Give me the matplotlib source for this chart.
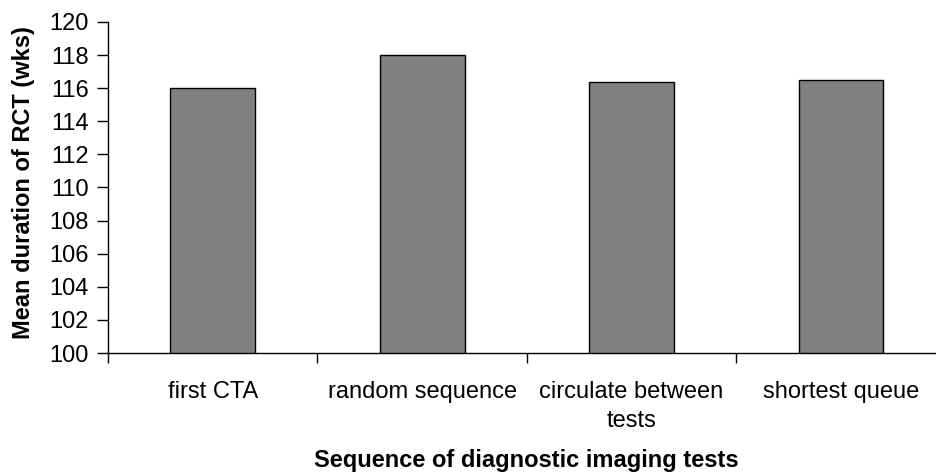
import matplotlib
matplotlib.use('Agg')
import matplotlib.pyplot as plt
import numpy as np

# ---data
categories = ['first CTA', 'random sequence', 'circulate between\ntests', 'shortest queue']
durations = [116.0, 118.0, 116.4, 116.5]

plt.rcParams['font.family'] = ['Liberation Sans', 'DejaVu Sans']

fig = plt.figure(figsize=(9.37, 4.75), dpi=100)
ax = fig.add_axes([0.1153, 0.2568, 0.894, 0.697])

x = np.arange(len(categories))
ax.bar(x, durations, width=0.405, bottom=0, color='#808080',
       edgecolor='black', linewidth=1.0, zorder=2)

ax.set_ylim(100, 120)
ax.set_xlim(-0.5, len(categories) - 0.5)
ax.set_yticks(np.arange(100, 121, 2))
ax.tick_params(axis='y', labelsize=17, length=8, width=1, direction='out', pad=6)

# boundaries get the tick marks, centres get the labels
ax.set_xticks(np.arange(len(categories) + 1) - 0.5)
ax.set_xticklabels([])
ax.set_xticks(x, minor=True)
ax.set_xticklabels(categories, minor=True, fontsize=17, linespacing=1.4)
ax.tick_params(axis='x', which='major', length=7, width=1, direction='out')
ax.tick_params(axis='x', which='minor', length=0, pad=20)

for s in ['top', 'right']:
    ax.spines[s].set_visible(False)
ax.spines['left'].set_linewidth(1)
ax.spines['bottom'].set_linewidth(1)

fig.text(0.0256, 0.6158, 'Mean duration of RCT (wks)', fontsize=17, fontweight='bold',
         rotation=90, ha='center', va='center')
fig.text(0.562, 0.0295, 'Sequence of diagnostic imaging tests', fontsize=17,
         fontweight='bold', ha='center', va='center')

fig.savefig('out.png', dpi=100)
